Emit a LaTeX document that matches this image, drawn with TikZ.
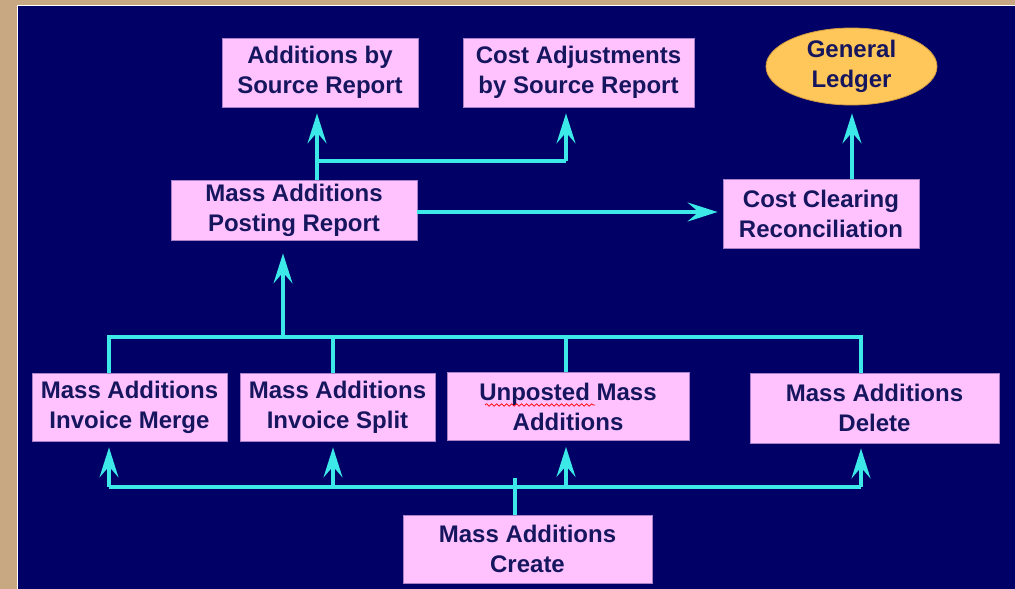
\documentclass[tikz,border=0pt]{standalone}
\usepackage{fontspec}
\setmainfont{Liberation Sans}
\usetikzlibrary{arrows.meta,shapes.geometric,decorations.pathmorphing}
\definecolor{tanbg}{HTML}{C8A882}
\definecolor{navybg}{HTML}{000066}
\definecolor{pinkbox}{HTML}{FFC2FF}
\definecolor{pinkedge}{HTML}{A880C8}
\definecolor{cyanln}{HTML}{3CE8E8}
\definecolor{txtc}{HTML}{16165E}
\definecolor{glfill}{HTML}{FFC65A}
\definecolor{gledge}{HTML}{D09A40}
\tikzset{
  boxnode/.style={rectangle, fill=pinkbox, draw=pinkedge, line width=0.8pt,
    inner sep=0pt, align=center, text=txtc,
    font=\bfseries\fontsize{24}{30}\selectfont},
  glnode/.style={ellipse, fill=glfill, draw=gledge, line width=0.8pt,
    inner sep=0pt, align=center, text=txtc,
    font=\bfseries\fontsize{24}{30}\selectfont},
  conn/.style={draw=cyanln, line width=3.2pt},
  arr/.style={conn, -{Stealth[length=30pt,width=19pt,inset=11pt]}}
}
\begin{document}
\begin{tikzpicture}[x=1pt,y=-1pt]
\useasboundingbox (0,0) rectangle (1015,589);
\fill[tanbg] (0,0) rectangle (1015,589);
\fill[white] (17,5) rectangle (1015,589);
\fill[navybg] (18,6) rectangle (1015,589);

% nodes
\node[boxnode, minimum width=196pt, minimum height=69pt] (add) at (320,72.5) {Additions by\\Source Report};
\node[boxnode, minimum width=231pt, minimum height=69pt] (cadj) at (578.5,72.5) {Cost Adjustments\\by Source Report};
\node[glnode, minimum width=171pt, minimum height=77pt] (gl) at (851.5,66.5) {General\\Ledger};
\node[boxnode, minimum width=246pt, minimum height=60pt] (post) at (294,210) {Mass Additions\\Posting Report};
\node[boxnode, minimum width=196pt, minimum height=69pt] (ccr) at (821,213.5) {Cost Clearing\\Reconciliation};
\node[boxnode, minimum width=195pt, minimum height=68pt] (merge) at (129.5,407) {Mass Additions\\Invoice Merge};
\node[boxnode, minimum width=195pt, minimum height=68pt] (split) at (337.5,407) {Mass Additions\\Invoice Split};
\node[boxnode, minimum width=242pt, minimum height=68pt] (unp) at (568,406.5) {Unposted Mass\\Additions};
\node[boxnode, minimum width=249pt, minimum height=70pt] (del) at (874.5,408) {Mass Additions\\Delete};
\node[boxnode, minimum width=249pt, minimum height=68pt] (create) at (527.5,549) {Mass Additions\\Create};

% spell-check squiggle
\draw[red, line width=0.7pt, decorate, decoration={snake, amplitude=1.2pt, segment length=5pt}] (485,405) -- (595,405);

% bus coordinates
\coordinate (br) at (317,161);
\coordinate (brR) at (566,161);
\coordinate (tb1) at (109,337);
\coordinate (tb2) at (333,337);
\coordinate (tbp) at (283,337);
\coordinate (tb3) at (566,337);
\coordinate (tb4) at (861,337);
\coordinate (bb1) at (109,487);
\coordinate (bb2) at (333,487);
\coordinate (bbc2) at (515,478);
\coordinate (bb3) at (566,487);
\coordinate (bb4) at (861,487);

% top section
\draw[arr, shorten >=6pt] (post.north -| br) -- (add.south -| br);
\draw[conn] (br) -- (brR);
\draw[arr, shorten >=6pt] (brR) -- (cadj.south -| brR);
\draw[arr, shorten >=5pt] (post.east |- 0,212) -- (ccr.west |- 0,212);
\draw[arr, shorten >=8pt] (ccr.north -| 852,0) -- (gl.south -| 852,0);

% middle bus
\draw[conn] (tb1 |- merge.north) -- (tb1) -- (tb4) -- (tb4 |- del.north);
\draw[conn] (tb2) -- (tb2 |- split.north);
\draw[conn] (tb3) -- (tb3 |- unp.north);
\draw[arr, shorten >=13pt] (tbp) -- (tbp |- post.south);

% bottom bus
\draw[conn] (bb1) -- (bb4);
\draw[conn] (bbc2) -- (bbc2 |- create.north);
\draw[arr, shorten >=6pt] (bb1) -- (bb1 |- merge.south);
\draw[arr, shorten >=6pt] (bb2) -- (bb2 |- split.south);
\draw[arr, shorten >=6pt] (bb3) -- (bb3 |- unp.south);
\draw[arr, shorten >=5pt] (bb4) -- (bb4 |- del.south);
\end{tikzpicture}
\end{document}
